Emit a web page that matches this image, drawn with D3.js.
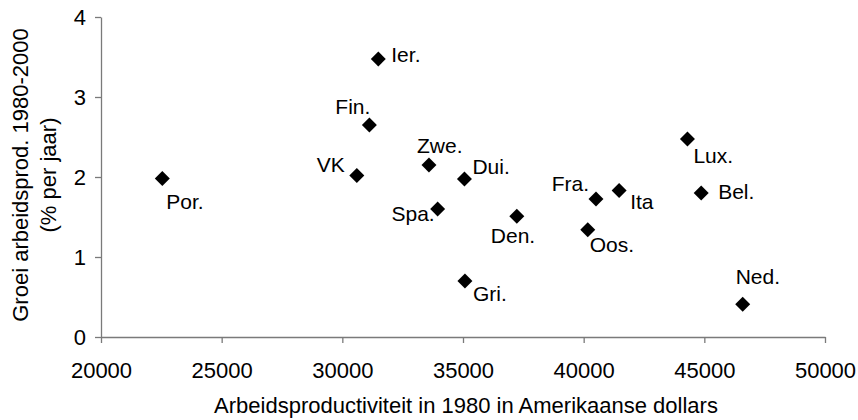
<!DOCTYPE html>
<html>
<head>
<meta charset="utf-8">
<script src="https://cdn.jsdelivr.net/npm/d3@7"></script>
<style>
    body { margin: 0; background: #fff; }
    svg { display: block; font-family: 'Liberation Sans', Arial, sans-serif; }
</style>
</head>
<body>
<div id="chart"></div>
<script>
const countries = ['Por.', 'Ier.', 'Fin.', 'VK', 'Zwe.', 'Dui.', 'Spa.', 'Den.', 'Gri.', 'Fra.', 'Ita', 'Oos.', 'Lux.', 'Bel.', 'Ned.'];
const productivity1980 = [22540, 31490, 31120, 30600, 33590, 35060, 33950, 37230, 35080, 40510, 41470, 40170, 44300, 44870, 46590];
const growth = [1.98, 3.475, 2.65, 2.02, 2.15, 1.975, 1.6, 1.51, 0.7, 1.725, 1.83, 1.34, 2.475, 1.8, 0.41];
const xTicks = [20000, 25000, 30000, 35000, 40000, 45000, 50000];
const yTicks = [0, 1, 2, 3, 4];

// label placement, relative to the marker centre (layout only)
const labelPlacement = {
    'Por.': ['start', 4, 23],
    'Ier.': ['start', 13, -5],
    'Fin.': ['end', 1, -19],
    'VK':   ['end', -12, -11],
    'Zwe.': ['start', -12, -20],
    'Dui.': ['start', 8, -13],
    'Spa.': ['end', -3, 4],
    'Den.': ['start', -26, 19],
    'Gri.': ['start', 8, 12],
    'Fra.': ['end', -7, -16],
    'Ita':  ['start', 11, 11],
    'Oos.': ['start', 2, 15],
    'Lux.': ['start', 6, 16],
    'Bel.': ['start', 17, -2],
    'Ned.': ['start', -7, -28]
};

const width = 858;
const height = 420;
const axisColor = '#7a7a7a';
const labelSize = 21;

const points = countries.map((c, i) => ({ name: c, x: productivity1980[i], y: growth[i] }));

const svg = d3.select('#chart')
  .append('svg')
    .attr('width', width)
    .attr('height', height);

const x = d3.scaleLinear().domain([20000, 50000]).range([101, 825]);
const y = d3.scaleLinear().domain([0, 4]).range([337, 17]);

// axes
const xAxis = svg.append('g')
    .attr('transform', `translate(0, ${y(0)})`)
    .call(d3.axisBottom(x).tickValues(xTicks).tickSize(6).tickPadding(19).tickSizeOuter(0).tickFormat(d3.format('d')));

const yAxis = svg.append('g')
    .attr('transform', `translate(${x(20000)}, 0)`)
    .call(d3.axisLeft(y).tickValues(yTicks).tickSize(6).tickPadding(9).tickSizeOuter(0).tickFormat(d3.format('d')));

[xAxis, yAxis].forEach(a => {
    a.select('.domain').attr('stroke', axisColor).attr('stroke-width', 1.3);
    a.selectAll('.tick line').attr('stroke', axisColor).attr('stroke-width', 1.3);
    a.selectAll('.tick text')
        .attr('fill', '#000')
        .style('font-size', '22px')
        .style('font-family', "'Liberation Sans', Arial, sans-serif");
});
yAxis.selectAll('.tick text').attr('dy', '0.36em');

// markers
svg.append('g')
    .selectAll('path')
    .data(points)
    .join('path')
      .attr('d', d3.symbol(d3.symbolSquare, 112))
      .attr('transform', d => `translate(${x(d.x)}, ${y(d.y)}) rotate(45)`)
      .attr('fill', '#000');

// data labels
svg.append('g')
    .selectAll('text')
    .data(points)
    .join('text')
      .attr('x', d => x(d.x) + labelPlacement[d.name][1])
      .attr('y', d => y(d.y) + labelPlacement[d.name][2] + labelSize * 0.36)
      .attr('text-anchor', d => labelPlacement[d.name][0])
      .style('font-size', labelSize + 'px')
      .attr('fill', '#000')
      .text(d => d.name);

// axis titles
svg.append('text')
    .attr('x', 466)
    .attr('y', 413)
    .attr('text-anchor', 'middle')
    .style('font-size', '22px')
    .text('Arbeidsproductiviteit in 1980 in Amerikaanse dollars');

const yTitle = svg.append('text')
    .attr('transform', 'translate(28, 175) rotate(-90)')
    .attr('text-anchor', 'middle')
    .style('font-size', '22px');
yTitle.append('tspan').attr('x', 0).attr('y', 0).text('Groei arbeidsprod. 1980-2000');
yTitle.append('tspan').attr('x', 0).attr('y', 28).text('(% per jaar)');
</script>
</body>
</html>
